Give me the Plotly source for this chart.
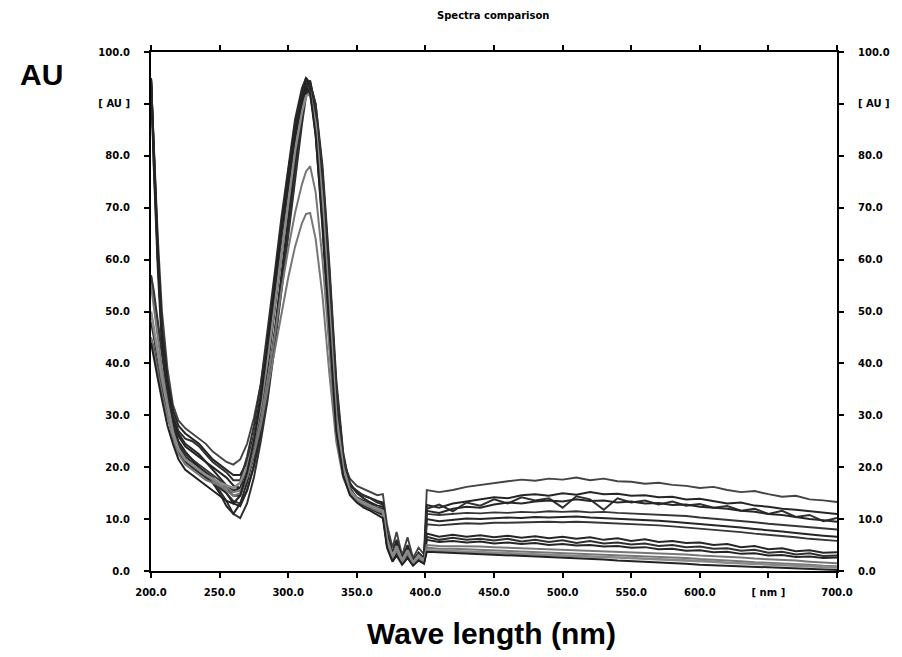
import plotly.graph_objects as go

# ---------------- data ----------------
uv_nm = [200, 202, 205, 208, 212, 216, 220, 225, 230, 235,
         240, 245, 250, 255, 260, 265, 270, 275, 280, 285,
         290, 295, 300, 305, 310, 313, 316, 320, 325, 330,
         335, 340, 345, 350, 355, 360, 365, 369, 372, 376,
         379, 383, 387, 391, 395, 399]
vis_nm = [401, 410, 420, 430, 440, 450, 460, 470, 480, 490,
          500, 510, 520, 530, 540, 550, 560, 570, 580, 590,
          600, 610, 620, 630, 640, 650, 660, 670, 680, 690, 700]

uv_s1 = [95, 82, 64, 50, 39, 32, 29, 27.5, 26.5, 25.5, 24.5, 23, 22, 21, 20.5, 21.5, 24.5, 29.5, 36, 45,
         55, 66, 76, 85, 92, 94.8, 94, 88, 73, 52, 31, 21, 17.8, 16.4, 15.8, 15.2, 14.6, 14.8, 9, 4.5,
         7.5, 3, 6.5, 2.5, 4.5, 3.2]
uv_s2 = [95, 80, 61, 47, 37, 31, 28, 26.5, 25.5, 24.5, 23, 21.5, 20.5, 19.5, 18.5, 18.5, 21, 26, 33, 42,
         52, 63, 73, 83, 91, 94, 93, 85, 68, 46, 27, 19, 16.5, 15.2, 14.6, 14, 13.5, 13.2, 7.5, 3.5,
         6, 2.5, 5, 2, 3.5, 2.5]
uv_s3 = [57, 54, 48, 42, 35.5, 30, 27, 25.5, 25, 24, 22.5, 21, 20, 19, 17.5, 17.5, 22, 28, 36, 46,
         57, 68, 78, 87, 93, 95, 94, 88, 72, 51, 30, 20, 16.5, 15.5, 14.5, 14, 13.2, 12.8, 6.5, 2.8,
         5, 2, 4.2, 1.8, 3, 2]
uv_s4 = [95, 79, 60, 45, 35, 29, 26, 24, 23, 22, 21, 20, 19, 18, 16.5, 16, 18, 22, 28, 36,
         46, 57, 68, 79, 88, 92.5, 93.5, 89, 76, 57, 35, 22, 17, 15, 14, 13.2, 12.6, 12.4, 6, 2.5,
         4, 1.8, 3.5, 1.5, 3.5, 2]
uv_s5 = [45, 43, 39, 35, 30, 26, 23, 21, 20, 19, 18, 17, 16, 15, 13.5, 13, 15.5, 20, 26, 34,
         44, 55, 66, 77, 87, 92, 94, 90, 77, 58, 36, 22.5, 16, 14, 13, 12.4, 11.8, 11.5, 5, 2,
         3.5, 1.5, 2.8, 1.3, 2.5, 1.8]
uv_s6 = [95, 81, 62, 46, 36, 29.5, 26.5, 24.5, 23.5, 22.5, 21, 19.5, 18, 16.5, 15.5, 16, 20, 26, 34, 44,
         56, 67, 77, 86, 92.5, 95, 93, 84, 66, 44, 26, 18.5, 15.5, 14.2, 13.5, 12.8, 12.2, 12, 6.8, 3,
         5.5, 2.2, 4.5, 1.8, 3, 2.2]
uv_s7 = [57, 53, 47, 41, 34, 28, 24.5, 22.5, 21.5, 20.5, 19.5, 18.5, 17.5, 16, 14.5, 14.5, 18, 23.5, 31, 40,
         50, 61, 71.5, 81, 89, 92.5, 93, 87, 72, 51, 30, 20, 15, 13.5, 12.6, 12, 11.3, 10.8, 5.5, 2.2,
         4, 1.6, 3.2, 1.4, 2.6, 1.6]
uv_s8 = [95, 78, 58, 43, 33, 27, 24, 22, 21, 20, 19, 18, 16.5, 15, 13, 12.5, 15.5, 20.5, 27, 35,
         45, 56, 67, 78, 88, 93, 94.5, 89, 74, 53, 32, 20.5, 15.5, 13.8, 12.8, 12.2, 11.5, 11, 5, 2,
         3.2, 1.5, 2.6, 1.2, 2.2, 1.5]
uv_s9 = [48, 45, 41, 36.5, 31, 26.5, 23.5, 21.5, 20, 19, 18, 17, 15.5, 13.5, 11, 10.2, 13, 18, 25, 33,
         43, 54, 65, 76, 86, 91.5, 94, 90, 78, 59, 37, 23, 16, 14, 13, 12.2, 11.4, 11, 5.5, 2.5,
         4.5, 1.8, 3.8, 1.5, 2.8, 2]
uv_s10 = [95, 80, 60, 45, 35, 28.5, 25, 23, 21.5, 20, 18.5, 17, 15, 12.5, 11, 13, 17, 22.5, 30, 39,
          50, 61, 72, 82, 90.5, 94.5, 94, 86, 69, 47, 28, 19, 15, 13.6, 12.7, 12, 11.2, 10.8, 5.2, 2.2,
          3.8, 1.5, 3, 1.3, 2.4, 1.6]
uv_s11 = [55, 51, 45, 39, 32.5, 27, 23.5, 21.5, 20.5, 19.5, 18.5, 17.5, 16.5, 15.5, 14.5, 15, 18, 23, 29, 37,
          45, 54, 62, 69, 74.5, 77, 78, 73, 60, 43, 27, 19, 15.2, 13.8, 13, 12.4, 11.8, 11.5, 6, 2.6,
          4.5, 1.8, 3.6, 1.5, 2.8, 1.8]
uv_s12 = [45, 42, 38, 34, 29.5, 25.5, 22.5, 20.5, 19.5, 18.5, 17.5, 17, 16.5, 16, 15.2, 15.5, 18, 22.5, 28, 35,
          42, 49.5, 56.5, 62.5, 67, 68.8, 69, 64, 53, 38, 25, 18, 14.8, 13.5, 12.8, 12.2, 11.6, 11.2, 5.8, 2.4,
          4, 1.6, 3.4, 1.4, 2.6, 1.7]
uv_s13 = [50, 47, 42, 37, 31.5, 26.5, 23.5, 21.5, 20.5, 19.5, 18.5, 17.8, 17, 16.5, 16, 17, 20, 25, 32, 41,
          51, 62, 72, 81, 88.5, 91.5, 92, 86, 71, 50, 30, 20, 15.5, 14, 13.2, 12.6, 12, 11.6, 6.2, 2.8,
          4.8, 2, 4, 1.6, 3, 2]
uv_s14 = [44, 41, 37, 33, 28, 24.5, 21.5, 19.5, 18.5, 17.5, 16.5, 15.5, 14.5, 13.5, 13, 14.5, 19, 25, 33, 43,
          54, 65, 75, 84, 90.5, 93, 92, 84, 67, 46, 27, 18.5, 14.6, 13.2, 12.2, 11.6, 10.8, 10.2, 4.5, 1.8,
          3, 1.2, 2.5, 1, 2, 1.4]

vis_s1 = [15.6, 15.2, 15.6, 16.2, 16.6, 17.0, 17.3, 17.6, 17.4, 17.8, 17.6, 18.0, 17.5, 17.8, 17.3, 17.2,
          16.8, 17.0, 16.6, 16.4, 16.0, 16.2, 15.6, 15.2, 15.4, 14.8, 14.3, 14.5, 13.8, 13.6, 13.3]
vis_s2 = [12.7, 12.2, 13.0, 13.4, 13.8, 14.2, 14.0, 14.6, 14.8, 14.5, 15.0, 14.7, 15.2, 14.8, 14.9, 14.5,
          14.6, 14.2, 14.3, 13.8, 13.9, 13.4, 13.0, 13.2, 12.6, 12.4, 12.0, 11.8, 11.5, 11.2, 11.0]
vis_s3 = [12.0, 12.8, 11.5, 13.2, 12.6, 13.8, 13.0, 14.2, 13.6, 14.0, 12.2, 14.4, 13.8, 11.8, 14.0, 13.2,
          13.6, 12.8, 13.4, 12.6, 12.9, 12.2, 12.5, 11.6, 12.0, 11.0, 11.6, 10.4, 10.8, 9.6, 10.2]
vis_s4 = [11.6, 11.2, 12.0, 12.4, 12.2, 12.8, 13.2, 13.0, 13.4, 13.6, 13.4, 13.8, 13.5, 13.6, 13.2, 13.4,
          13.0, 13.1, 12.7, 12.8, 12.4, 12.2, 12.0, 11.6, 11.4, 11.0, 10.8, 10.4, 10.0, 9.8, 9.5]
vis_s5 = [11.0, 10.8, 11.0, 11.2, 11.1, 11.3, 11.2, 11.4, 11.3, 11.5, 11.4, 11.5, 11.3, 11.4, 11.2, 11.1,
          11.0, 10.9, 10.7, 10.6, 10.3, 10.1, 9.9, 9.6, 9.4, 9.1, 8.9, 8.6, 8.4, 8.2, 8.0]
vis_s6 = [10.0, 9.6, 9.9, 10.1, 10.0, 10.2, 10.3, 10.2, 10.4, 10.3, 10.4, 10.5, 10.3, 10.2, 10.1, 10.0,
          9.8, 9.7, 9.5, 9.3, 9.0, 8.8, 8.6, 8.4, 8.1, 7.9, 7.6, 7.3, 7.0, 6.8, 6.6]
vis_s7 = [9.0, 8.8, 9.0, 9.2, 9.1, 9.3, 9.3, 9.4, 9.4, 9.5, 9.4, 9.5, 9.4, 9.3, 9.2, 9.1,
          9.0, 8.8, 8.6, 8.4, 8.2, 8.0, 7.7, 7.5, 7.2, 7.0, 6.7, 6.5, 6.2, 6.0, 5.8]
vis_s8 = [7.2, 6.6, 7.0, 6.6, 6.9, 6.5, 6.8, 6.4, 6.7, 6.3, 6.6, 6.2, 6.5, 6.0, 6.3, 5.8,
          6.1, 5.6, 5.8, 5.4, 5.5, 5.0, 5.2, 4.6, 4.8, 4.2, 4.4, 3.8, 4.0, 3.5, 3.6]
vis_s9 = [6.6, 6.0, 6.4, 6.0, 6.2, 5.9, 6.2, 5.7, 6.0, 5.6, 5.9, 5.4, 5.8, 5.3, 5.5, 5.1,
          5.3, 4.8, 5.0, 4.6, 4.7, 4.3, 4.4, 3.9, 4.1, 3.5, 3.7, 3.2, 3.4, 2.9, 3.0]
vis_s10 = [6.0, 5.6, 5.8, 5.5, 5.7, 5.3, 5.5, 5.2, 5.4, 5.0, 5.2, 4.9, 5.0, 4.7, 4.8, 4.5,
           4.6, 4.2, 4.3, 3.9, 4.0, 3.6, 3.7, 3.3, 3.4, 3.0, 3.1, 2.7, 2.8, 2.5, 2.6]
vis_s11 = [5.0, 4.8, 4.8, 4.7, 4.7, 4.6, 4.5, 4.5, 4.4, 4.3, 4.2, 4.1, 4.0, 3.9, 3.8, 3.7,
           3.6, 3.4, 3.3, 3.2, 3.0, 2.9, 2.7, 2.6, 2.4, 2.3, 2.1, 2.0, 1.8, 1.7, 1.5]
vis_s12 = [4.5, 4.3, 4.3, 4.2, 4.1, 4.0, 3.9, 3.8, 3.7, 3.6, 3.5, 3.4, 3.3, 3.2, 3.1, 3.0,
           2.9, 2.7, 2.6, 2.5, 2.3, 2.2, 2.0, 1.9, 1.7, 1.6, 1.4, 1.3, 1.2, 1.0, 0.9]
vis_s13 = [4.0, 3.9, 3.8, 3.7, 3.6, 3.5, 3.4, 3.3, 3.2, 3.1, 3.0, 2.9, 2.8, 2.7, 2.6, 2.5,
           2.4, 2.3, 2.1, 2.0, 1.9, 1.8, 1.6, 1.5, 1.4, 1.2, 1.1, 1.0, 0.9, 0.8, 0.7]
vis_s14 = [3.7, 3.6, 3.5, 3.4, 3.3, 3.2, 3.1, 2.9, 2.8, 2.7, 2.6, 2.4, 2.3, 2.2, 2.0, 1.9,
           1.8, 1.6, 1.5, 1.4, 1.2, 1.1, 1.0, 0.8, 0.7, 0.6, 0.5, 0.4, 0.3, 0.2, 0.2]

y_tickvals = [0, 10, 20, 30, 40, 50, 60, 70, 80, 90, 100]
y_ticktext = ["0.0", "10.0", "20.0", "30.0", "40.0", "50.0", "60.0", "70.0", "80.0", "[ AU ]", "100.0"]
x_tickvals = [200, 250, 300, 350, 400, 450, 500, 550, 600, 650, 700]
x_ticktext = ["200.0", "250.0", "300.0", "350.0", "400.0", "450.0", "500.0", "550.0", "600.0", "[ nm ]", "700.0"]

# ---------------- figure ----------------
series = [
    (uv_s1, vis_s1, "#444444", 1.9),
    (uv_s2, vis_s2, "#262626", 2.0),
    (uv_s3, vis_s3, "#303030", 2.0),
    (uv_s4, vis_s4, "#262626", 2.0),
    (uv_s5, vis_s5, "#363636", 1.9),
    (uv_s6, vis_s6, "#262626", 2.0),
    (uv_s7, vis_s7, "#363636", 1.9),
    (uv_s8, vis_s8, "#262626", 2.0),
    (uv_s9, vis_s9, "#303030", 2.0),
    (uv_s10, vis_s10, "#262626", 2.0),
    (uv_s11, vis_s11, "#777777", 2.0),
    (uv_s12, vis_s12, "#777777", 2.0),
    (uv_s13, vis_s13, "#8a8a8a", 2.6),
    (uv_s14, vis_s14, "#222222", 2.0),
]

wavelengths = uv_nm + vis_nm
fig = go.Figure()
for uv, vis, col, w in series:
    fig.add_trace(go.Scatter(x=wavelengths, y=uv + vis, mode="lines",
                             line=dict(color=col, width=w), showlegend=False,
                             hoverinfo="skip"))
# helper trace so that the right-hand axis is drawn
fig.add_trace(go.Scatter(x=[200], y=[None], yaxis="y2", mode="lines",
                         showlegend=False, hoverinfo="skip"))

tick_font = dict(family="DejaVu Sans", size=10, color="black", weight="bold")

fig.update_layout(
    width=902, height=657,
    margin=dict(l=151, r=56, t=52, b=86),
    paper_bgcolor="white", plot_bgcolor="white",
    xaxis=dict(range=[200, 700], tickvals=x_tickvals, ticktext=x_ticktext,
               showline=True, linecolor="black", linewidth=2, mirror="ticks",
               ticks="outside", ticklen=5, tickwidth=1.5, tickcolor="black",
               showgrid=False, zeroline=False, tickfont=tick_font,
               ticklabelstandoff=6),
    yaxis=dict(range=[0, 100], tickvals=y_tickvals, ticktext=y_ticktext,
               showline=True, linecolor="black", linewidth=2,
               ticks="outside", ticklen=5, tickwidth=1.5, tickcolor="black",
               showgrid=False, zeroline=False, tickfont=tick_font,
               ticklabelstandoff=12),
    yaxis2=dict(range=[0, 100], tickvals=y_tickvals, ticktext=y_ticktext,
                overlaying="y", side="right",
                showline=True, linecolor="black", linewidth=2,
                ticks="outside", ticklen=5, tickwidth=1.5, tickcolor="black",
                showgrid=False, zeroline=False, tickfont=tick_font,
                ticklabelstandoff=12),
    annotations=[
        dict(text="Spectra comparison", xref="paper", yref="paper",
             x=0.499, y=1.071, showarrow=False, xanchor="center", yanchor="middle",
             font=dict(family="DejaVu Sans", size=10, color="black", weight="bold")),
        dict(text="AU", xref="paper", yref="paper",
             x=-0.16, y=0.957, showarrow=False, xanchor="center", yanchor="middle",
             font=dict(family="Liberation Sans", size=30, color="black", weight="bold")),
        dict(text="Wave length (nm)", xref="paper", yref="paper",
             x=0.497, y=-0.121, showarrow=False, xanchor="center", yanchor="middle",
             font=dict(family="Liberation Sans", size=30, color="black", weight="bold")),
    ],
)

fig.write_html("out.html")
